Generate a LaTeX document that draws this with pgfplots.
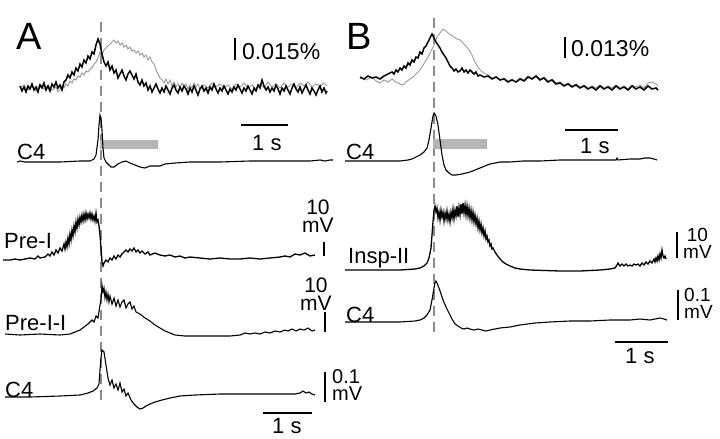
\documentclass[border=0pt]{standalone}
\usepackage{pgfplots}
\pgfplotsset{compat=1.18}
\usepackage{fontspec}
\setmainfont{Liberation Sans}

\definecolor{trgray}{HTML}{9A9A9A}
\definecolor{bargray}{HTML}{B5B5B5}
\definecolor{dashgray}{HTML}{8C8C8C}

\tikzset{lbl/.style={anchor=base west, inner sep=0pt, font=\fontsize{22bp}{22bp}\selectfont},
         stk/.style={anchor=base west, inner sep=0pt, font=\fontsize{#1bp}{#1bp}\selectfont}}

\begin{document}
\begin{tikzpicture}
\begin{axis}[
  width=720bp, height=438bp, scale only axis,
  xmin=0, xmax=720, ymin=0, ymax=438, y dir=reverse,
  hide axis, clip=false,
]
% frame of the page
\addplot[draw=none] coordinates {(0,0) (720,438)};

% dashed markers
\addplot[dashgray, line width=2bp, dash pattern=on 10bp off 6bp] coordinates {(101,22) (101,400)};
\addplot[dashgray, line width=2bp, dash pattern=on 10bp off 6bp] coordinates {(434,18) (434,333)};

% grey stimulus bars
\addplot[draw=none, fill=bargray] coordinates {(100,140) (158,140) (158,149) (100,149)} -- cycle;
\addplot[draw=none, fill=bargray] coordinates {(433,139) (487,139) (487,149) (433,149)} -- cycle;

% ---------- panel A, top traces
\addplot[trgray, line width=0.9bp] coordinates {
(20,88)(24,85)(28,90)(32,86)(36,91)(40,84)(44,89)(48,85)(52,90)(56,87)(58,92)(60,89)(62,86)(64,88)(66,84)(68,86)(70,81)(72,83)(74,79)(76,80)(78,76)(80,77)(82,73)(84,75)(86,71)(88,72)(90,69)(92,68)(94,64)(96,62)(98,58)(100,52)(102,55)(104,50)(106,48)(108,46)(110,44)(112,42)(114,40)(116,43)(118,41)(120,45)(122,43)(124,47)(126,45)(128,49)(130,47)(132,51)(134,50)(136,53)(138,51)(140,55)(142,53)(144,57)(146,55)(148,60)(150,57)(152,62)(154,64)(156,70)(158,74)(160,78)(162,80)(164,83)(166,79)(168,84)(170,80)(172,86)(174,82)(176,87)(178,84)(180,88)(182,83)(184,87)(186,84)(188,89)(190,85)(192,88)(194,83)(196,87)(198,84)(200,89)(204,85)(208,88)(212,83)(216,87)(220,84)(224,88)(228,85)(232,89)(236,84)(240,87)(244,83)(248,88)(252,85)(256,89)(260,84)(264,88)(268,82)(272,87)(276,84)(280,88)(284,83)(288,87)(292,84)(296,88)(300,83)(304,86)(308,82)(312,87)(316,84)(320,86)(324,83)(327,86)};
\addplot[black, line width=1.5bp] coordinates {
(20,86)(22,91)(24,87)(26,92)(28,86)(30,89)(32,84)(34,90)(36,87)(38,92)(40,85)(42,88)(44,83)(46,90)(48,86)(50,91)(52,84)(54,87)(56,82)(58,88)(60,85)(62,90)(64,82)(66,80)(68,75)(70,78)(72,72)(74,75)(76,68)(78,71)(80,64)(82,67)(84,60)(86,63)(88,56)(90,59)(92,52)(94,54)(96,45)(98,39)(100,44)(102,54)(104,62)(106,66)(108,62)(110,70)(112,66)(114,73)(116,70)(118,78)(120,74)(122,70)(124,76)(126,80)(128,74)(130,71)(132,75)(134,79)(136,74)(138,82)(140,85)(142,80)(144,86)(146,83)(148,90)(150,86)(152,92)(154,88)(156,84)(158,89)(160,93)(162,88)(164,92)(166,86)(168,90)(170,94)(172,88)(174,85)(176,90)(178,93)(180,87)(182,91)(184,86)(186,89)(188,94)(190,88)(192,92)(194,86)(196,90)(198,95)(200,89)(202,86)(204,91)(206,88)(208,93)(210,87)(212,90)(214,84)(216,89)(218,93)(220,88)(222,91)(224,86)(226,90)(228,94)(230,89)(232,92)(234,87)(236,90)(238,85)(240,89)(242,93)(244,88)(246,91)(248,86)(250,90)(252,94)(254,88)(256,91)(258,85)(260,88)(262,80)(264,86)(266,90)(268,87)(270,92)(272,88)(274,91)(276,85)(278,89)(280,94)(282,88)(284,91)(286,86)(288,90)(290,94)(292,88)(294,84)(296,89)(298,92)(300,87)(302,93)(304,89)(306,85)(308,90)(310,94)(312,88)(314,91)(316,95)(318,90)(320,86)(322,92)(324,88)(326,93)(327,91)};

% ---------- panel B, top traces
\addplot[trgray, line width=0.9bp] coordinates {
(360,78)(366,80)(372,77)(376,81)(380,83)(384,80)(388,82)(392,79)(396,82)(400,84)(403,85)(406,82)(410,79)(413,77)(416,74)(419,71)(422,67)(425,62)(428,57)(431,51)(434,45)(437,37)(440,33)(443,29)(446,31)(448,33)(451,35)(454,37)(457,39)(460,40)(463,43)(466,46)(469,50)(472,55)(475,62)(478,67)(481,71)(484,73)(488,75)(492,78)(496,77)(500,80)(504,78)(508,81)(512,79)(516,82)(520,78)(524,80)(528,76)(532,78)(536,76)(540,79)(544,77)(548,81)(552,79)(556,83)(560,82)(564,85)(568,83)(572,86)(576,84)(580,87)(584,85)(588,88)(592,86)(596,88)(600,85)(604,88)(608,86)(612,88)(616,85)(620,88)(624,86)(628,89)(632,85)(636,87)(640,85)(644,88)(648,83)(652,82)(656,84)(658,86)};
\addplot[black, line width=1.5bp] coordinates {
(360,77)(364,79)(368,76)(372,78)(376,77)(380,79)(384,76)(388,74)(392,72)(394,74)(396,70)(398,72)(400,68)(402,70)(404,66)(406,68)(408,63)(410,65)(412,60)(414,62)(416,57)(418,58)(420,52)(422,54)(424,48)(426,46)(428,42)(430,38)(432,34)(434,38)(436,42)(438,45)(440,48)(442,52)(444,55)(446,58)(448,62)(450,66)(452,68)(454,71)(456,69)(458,72)(460,71)(462,68)(464,72)(466,70)(468,73)(470,70)(472,72)(474,74)(476,72)(478,76)(480,75)(484,77)(488,76)(492,79)(496,77)(500,80)(504,79)(508,82)(512,80)(516,82)(520,79)(524,81)(528,77)(532,79)(536,76)(540,80)(544,78)(548,82)(552,80)(556,84)(560,83)(564,86)(568,84)(572,87)(576,85)(580,88)(584,86)(588,89)(592,87)(596,90)(600,86)(604,89)(608,87)(612,90)(616,86)(620,89)(624,87)(628,90)(632,86)(636,89)(640,87)(644,90)(648,86)(652,89)(656,88)(658,90)};

% ---------- C4 (A, upper)
\addplot[black, line width=1.1bp] coordinates {
(17,162)(20,161)(25,162)(40,162)(60,162)(80,161)(90,161)(94,159)(96,155)(98,140)(99,125)(100,115)(101,118)(102,130)(103,148)(104,158)(106,162)(108,164)(111,167)(114,167)(118,164)(122,162)(126,161)(130,163)(135,165)(140,167)(145,168)(150,166)(155,166)(160,166)(165,164)(175,163)(190,162)(220,162)(250,161)(280,161)(310,161)(320,160)(325,161)(330,160)(333,160)};
% ---------- C4 (B, upper)
\addplot[black, line width=1.1bp] coordinates {
(345,161)(360,161)(380,161)(400,161)(408,160)(412,159)(416,157)(420,155)(424,152)(427,148)(429,140)(431,128)(433,116)(434,113)(436,116)(438,125)(440,140)(442,155)(444,165)(446,170)(449,173)(452,175)(456,175)(462,174)(470,172)(480,168)(490,164)(500,162)(510,162)(523,161)(540,161)(560,160)(580,160)(600,160)(616,160)(617,158)(618,160)(630,159)(640,159)(645,158)(650,158)(654,159)(657,160)};

% ---------- Pre-I
\addplot[black, line width=1.3bp] coordinates {
(3,260)(10,260)(15,259)(20,260)(25,259)(30,258)(35,259)(38,256)(40,258)(45,257)(48,254)(50,256)(52,252)(54,255)(56,250)(58,253)(60,248)(62,251)(64,244)(65,249)(66,242)(67,247)(68,238)(69,244)(70,234)(71,240)(72,230)(73,236)(74,226)(75,232)(76,222)(77,228)(78,219)(79,225)(80,217)(81,222)(82,215)(83,221)(84,214)(85,220)(86,213)(87,219)(88,214)(89,218)(90,213)(91,219)(92,214)(93,220)(94,216)(95,221)(96,213)(97,222)(98,220)(99,226)(100,235)(101,248)(102,262)(103,266)(104,263)(106,260)(108,262)(110,258)(112,260)(114,256)(116,259)(118,255)(120,257)(122,254)(124,252)(126,250)(128,252)(130,249)(132,251)(134,248)(136,252)(138,250)(140,253)(142,251)(145,254)(148,252)(150,255)(155,253)(160,255)(165,256)(170,255)(175,257)(180,256)(185,258)(190,257)(200,258)(210,259)(220,258)(230,259)(240,259)(250,258)(260,259)(270,258)(280,257)(285,256)(290,257)(295,254)(300,255)(305,253)(310,256)(315,255)};

% ---------- Pre-I-I
\addplot[black, line width=1.1bp] coordinates {
(5,334)(20,335)(40,334)(60,335)(70,334)(75,332)(80,330)(84,327)(88,324)(90,322)(92,320)(94,322)(96,316)(98,318)(100,305)(101,300)(102,285)(103,292)(104,288)(105,298)(106,292)(107,300)(108,294)(109,302)(110,296)(112,304)(114,298)(116,306)(118,300)(120,307)(122,302)(124,300)(126,308)(128,304)(130,302)(132,309)(134,306)(136,312)(140,314)(145,318)(150,321)(155,325)(160,328)(165,331)(170,333)(175,335)(185,336)(200,336)(215,336)(230,336)(240,335)(245,333)(250,334)(255,333)(260,334)(265,332)(270,333)(275,331)(280,332)(285,330)(288,331)(292,329)(296,331)(300,329)(304,330)(308,328)(312,331)(315,330)};

% ---------- C4 (A, lower)
\addplot[black, line width=1.1bp] coordinates {
(5,397)(30,397)(60,396)(80,395)(88,393)(93,391)(97,388)(99,384)(100,370)(101,358)(102,350)(104,352)(106,365)(108,378)(110,385)(112,380)(114,388)(116,384)(118,390)(120,383)(122,392)(124,389)(126,396)(128,393)(131,400)(134,404)(137,407)(140,409)(143,408)(146,406)(150,404)(155,402)(162,400)(170,398)(180,396)(195,395)(220,394)(260,394)(295,394)(300,393)(303,391)(306,393)(309,392)(312,394)(315,395)};

% ---------- Insp-II
\addplot[black, line width=1.3bp] coordinates {
(345,270)(370,270)(400,270)(415,269)(420,268)(424,266)(427,263)(429,258)(431,248)(432,235)(433,222)(434,210)(435,206)(436,212)(437,208)(438,218)(439,212)(440,220)(441,210)(442,217)(443,212)(444,221)(445,213)(446,219)(447,211)(448,220)(449,214)(450,222)(451,212)(452,218)(453,209)(454,219)(455,210)(456,216)(457,206)(458,217)(459,207)(460,215)(461,204)(462,214)(463,203)(464,213)(465,205)(466,215)(467,206)(468,216)(469,208)(470,218)(471,210)(472,220)(473,212)(474,222)(475,215)(476,224)(477,218)(478,228)(479,221)(480,230)(481,224)(482,233)(483,228)(484,236)(485,231)(486,239)(487,236)(488,242)(489,240)(490,246)(491,244)(492,249)(493,248)(495,252)(497,255)(500,259)(503,262)(506,264)(510,266)(515,268)(520,269)(530,270)(545,270.5)(560,271)(580,271)(600,270)(610,269)(615,268)(617,265)(618,263)(620,266)(622,264)(624,266)(626,264)(628,266)(630,265)(632,266)(634,264)(636,265)(638,264)(640,266)(642,263)(644,265)(646,262)(648,264)(650,261)(652,263)(654,259)(655,262)(656,258)(657,261)(658,256)(659,260)(660,254)(661,258)(662,250)(663,256)(664,258)(665,256)(666,259)};

% ---------- C4 (B, lower)
\addplot[black, line width=1.1bp] coordinates {
(345,322)(370,322)(400,322)(415,321)(420,320)(424,318)(427,315)(430,310)(432,300)(434,288)(435,283)(436,281)(437,283)(439,288)(441,294)(443,300)(446,307)(449,313)(452,319)(455,324)(458,326)(461,328)(464,329)(467,328)(470,329)(474,330)(478,329)(482,330)(486,331)(490,330)(495,329)(500,328)(510,327)(520,325)(535,323)(550,322)(570,321)(590,321)(610,320)(630,320)(640,319)(650,320)(655,319)(660,318)(664,319)(667,320)};

% ---------- scale bars
\addplot[black, line width=2bp] coordinates {(235,38) (235,60)};
\addplot[black, line width=2bp] coordinates {(565,37) (565,58)};
\addplot[black, line width=2bp] coordinates {(241,125) (288,125)};
\addplot[black, line width=2bp] coordinates {(565,130) (618,130)};
\addplot[black, line width=1.6bp] coordinates {(324,242) (324,256)};
\addplot[black, line width=1.6bp] coordinates {(325,312) (325,332)};
\addplot[black, line width=1.6bp] coordinates {(325,372) (325,402)};
\addplot[black, line width=2bp] coordinates {(263,413) (312,413)};
\addplot[black, line width=1.6bp] coordinates {(677,232) (677,258)};
\addplot[black, line width=1.6bp] coordinates {(678,290) (678,320)};
\addplot[black, line width=2bp] coordinates {(615,342) (668,342)};

% ---------- text
\node[anchor=base west, inner sep=0pt, font=\fontsize{38bp}{38bp}\selectfont] at (axis cs:16,50) {A};
\node[anchor=base west, inner sep=0pt, font=\fontsize{38bp}{38bp}\selectfont] at (axis cs:346,50) {B};
\node[anchor=base west, inner sep=0pt, font=\fontsize{23bp}{23bp}\selectfont] at (axis cs:242,60) {0.015\%};
\node[anchor=base west, inner sep=0pt, font=\fontsize{23bp}{23bp}\selectfont] at (axis cs:571,57) {0.013\%};
\node[lbl] at (axis cs:17,159) {C4};
\node[lbl] at (axis cs:346,159) {C4};
\node[lbl] at (axis cs:252,150) {1 s};
\node[lbl] at (axis cs:580,153) {1 s};
\node[lbl] at (axis cs:4,248) {Pre-I};
\node[lbl] at (axis cs:5,330) {Pre-I-I};
\node[lbl] at (axis cs:5,397) {C4};
\node[lbl] at (axis cs:272,433) {1 s};
\node[lbl] at (axis cs:348,263) {Insp-II};
\node[lbl] at (axis cs:346,322) {C4};
\node[lbl] at (axis cs:625,363) {1 s};
% stacked unit labels (baseline of the lower line)
\node[stk=21] at (axis cs:302,232) {\shortstack[c]{10\\mV}};
\node[stk=21] at (axis cs:300,310) {\shortstack[c]{10\\mV}};
\node[stk=20] at (axis cs:332,400) {\shortstack[l]{0.1\\mV}};
\node[stk=19] at (axis cs:683,258) {\shortstack[c]{10\\mV}};
\node[stk=19] at (axis cs:684,318) {\shortstack[l]{0.1\\mV}};
\end{axis}
\end{tikzpicture}
\end{document}
